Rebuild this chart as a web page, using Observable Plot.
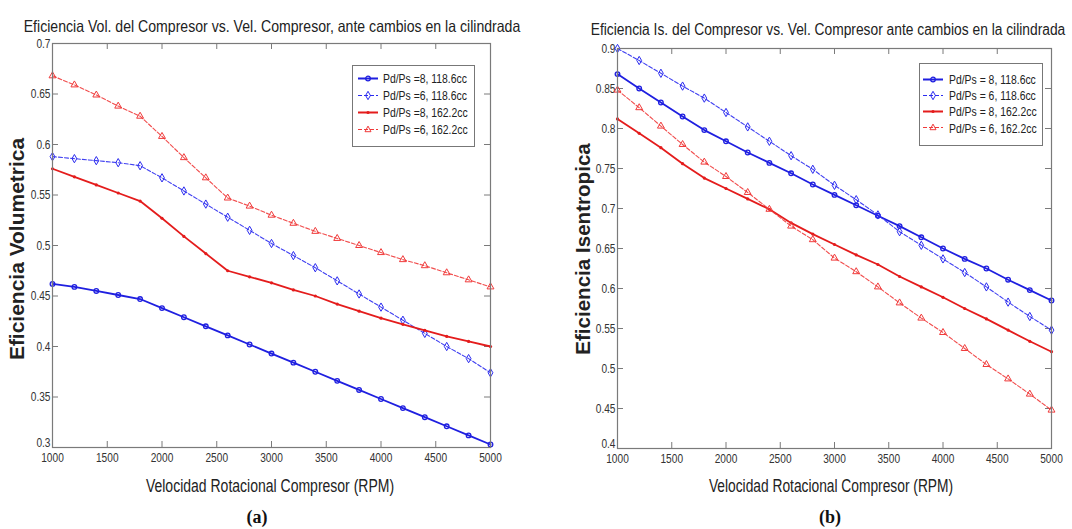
<!DOCTYPE html>
<html><head><meta charset="utf-8">
<script src="https://cdn.jsdelivr.net/npm/d3@7"></script>
<script src="https://cdn.jsdelivr.net/npm/@observablehq/plot@0.6"></script>
<style>
body{margin:0;background:#fff;}
#root{position:relative;width:1072px;height:529px;overflow:hidden;font-family:"Liberation Sans",Arial,sans-serif;color:#222;}
.c{position:absolute;white-space:nowrap;line-height:1;}
.panel{position:absolute;top:0;}
.legend{position:absolute;background:#fff;border:1px solid #777;box-sizing:border-box;}
.item{position:absolute;display:flex;align-items:center;font-size:13px;color:#222;white-space:nowrap;transform:translateY(-50%);}
.item span{display:inline-block;transform:scaleX(0.8);transform-origin:0 50%;}
</style>
</head><body><div id="root"></div>
<script>
// ---------- data ----------
const rpm = [1000,1200,1400,1600,1800,2000,2200,2400,2600,2800,3000,3200,3400,3600,3800,4000,4200,4400,4600,4800,5000];
const xTicks = [1000,1500,2000,2500,3000,3500,4000,4500,5000];
const yTicksA = [0.3,0.35,0.4,0.45,0.5,0.55,0.6,0.65,0.7];
const yTicksB = [0.4,0.45,0.5,0.55,0.6,0.65,0.7,0.75,0.8,0.85,0.9];
const legendA = ["Pd/Ps =8, 118.6cc","Pd/Ps =6, 118.6cc","Pd/Ps =8, 162.2cc","Pd/Ps =6, 162.2cc"];
const legendB = ["Pd/Ps = 8, 118.6cc","Pd/Ps = 6, 118.6cc","Pd/Ps = 8, 162.2cc","Pd/Ps = 6, 162.2cc"];

// (a) Eficiencia volumetrica
const volP8_1186 = [0.462,0.459,0.455,0.451,0.447,0.438,0.429,0.420,0.411,0.402,0.393,0.384,0.375,0.366,0.357,0.348,0.339,0.330,0.321,0.312,0.303];
const volP6_1186 = [0.588,0.586,0.584,0.582,0.579,0.567,0.554,0.541,0.528,0.515,0.502,0.490,0.478,0.465,0.452,0.439,0.426,0.413,0.400,0.388,0.374];
const volP8_1622 = [0.576,0.568,0.560,0.552,0.544,0.527,0.509,0.492,0.475,0.469,0.463,0.456,0.450,0.442,0.435,0.428,0.422,0.416,0.410,0.405,0.400];
const volP6_1622 = [0.668,0.659,0.649,0.638,0.628,0.608,0.587,0.567,0.547,0.539,0.530,0.522,0.514,0.507,0.500,0.493,0.486,0.480,0.473,0.466,0.459];

// (b) Eficiencia isentropica
const isoP8_1186 = [0.868,0.850,0.8325,0.815,0.798,0.784,0.770,0.757,0.744,0.730,0.717,0.704,0.691,0.678,0.664,0.650,0.637,0.625,0.611,0.598,0.585];
const isoP6_1186 = [0.900,0.885,0.869,0.853,0.838,0.820,0.802,0.784,0.766,0.749,0.729,0.711,0.692,0.671,0.654,0.637,0.620,0.602,0.583,0.565,0.548];
const isoP8_1622 = [0.812,0.794,0.776,0.756,0.738,0.725,0.712,0.699,0.682,0.668,0.655,0.642,0.630,0.615,0.602,0.589,0.575,0.562,0.548,0.534,0.521];
const isoP6_1622 = [0.848,0.826,0.803,0.780,0.758,0.740,0.720,0.699,0.678,0.661,0.638,0.621,0.602,0.582,0.563,0.545,0.525,0.505,0.487,0.468,0.448];

// ---------- styles ----------
const styles = [
  {stroke:"#1f1fe0", width:1.8, dash:null, marker:"circle"},
  {stroke:"#2b2bf0", width:1.1, dash:"4,2", marker:"diamond"},
  {stroke:"#e41c1c", width:1.8, dash:null, marker:"dot"},
  {stroke:"#f03a3a", width:1.1, dash:"4,2", marker:"triangle"}
];
const tallDiamond = {draw(ctx, size){const r=Math.sqrt(size/Math.PI);ctx.moveTo(0,-r*1.3);ctx.lineTo(r*0.75,0);ctx.lineTo(0,r*1.3);ctx.lineTo(-r*0.75,0);ctx.closePath();}};

function seriesMarks(values, s){
  const rows = rpm.map((x,i)=>({x, y:values[i]}));
  const marks = [Plot.line(rows,{x:"x",y:"y",stroke:s.stroke,strokeWidth:s.width,strokeDasharray:s.dash,strokeOpacity:s.dash?0.9:1})];
  if(s.marker==="circle") marks.push(Plot.dot(rows,{x:"x",y:"y",r:2.3,fill:"none",stroke:s.stroke,strokeWidth:1.3}));
  if(s.marker==="diamond") marks.push(Plot.dot(rows,{x:"x",y:"y",r:3.2,symbol:tallDiamond,fill:"none",stroke:s.stroke,strokeWidth:1}));
  if(s.marker==="dot") marks.push(Plot.dot(rows,{x:"x",y:"y",r:1.6,fill:s.stroke,stroke:"none"}));
  if(s.marker==="triangle") marks.push(Plot.dot(rows,{x:"x",y:"y",r:3.3,symbol:"triangle2",stroke:s.stroke,strokeWidth:1}));
  return marks;
}

const fmtY = d=>String(+d.toFixed(2));
function panel({seriesList, yDomain, yTicks, mL, mR, mT, mB}){
  const W=536, H=470, pw=W-mL-mR, ph=H-mT-mB, tk=6, gray="#7a7a7a";
  const svg = Plot.plot({
    width:W, height:H, marginLeft:mL, marginRight:mR, marginTop:mT, marginBottom:mB,
    style:{fontFamily:'"Liberation Sans",Arial,sans-serif', fontSize:"13px", background:"transparent", overflow:"visible", color:"#333"},
    x:{domain:[1000,5000], label:null},
    y:{domain:yDomain, label:null},
    marks:[
      Plot.tickX(xTicks,{x:d=>d, insetTop:ph-tk, stroke:gray}),
      Plot.tickX(xTicks,{x:d=>d, insetBottom:ph-tk, stroke:gray}),
      Plot.tickY(yTicks,{y:d=>d, insetRight:pw-tk, stroke:gray}),
      Plot.tickY(yTicks,{y:d=>d, insetLeft:pw-tk, stroke:gray}),
      Plot.axisX({ticks:xTicks, tickSize:0, tickPadding:5, label:null, tickFormat:d=>String(d), fill:"#333"}),
      Plot.axisY({ticks:yTicks.slice(1), tickSize:0, tickPadding:2, label:null, tickFormat:fmtY, fill:"#333"}),
      Plot.axisY({ticks:yTicks.slice(0,1), tickSize:0, tickPadding:2, label:null, tickFormat:fmtY, fill:"#333", dy:-5}),
      ...seriesList.flatMap(([v,s])=>seriesMarks(v,s)),
      Plot.frame({stroke:gray, strokeWidth:1.2})
    ]
  });
  // condensed tick labels (narrow look)
  svg.querySelectorAll('g[aria-label$="tick label"] text').forEach(el=>{
    const t=el.getAttribute("transform");
    if(t) el.setAttribute("transform", t+" scale(0.78,1)");
    else {
      const x=+el.getAttribute("x")||0, y=+el.getAttribute("y")||0;
      el.setAttribute("x",0); el.setAttribute("y",0);
      el.setAttribute("transform",`translate(${x},${y}) scale(0.78,1)`);
    }
  });
  return svg;
}

const root = document.getElementById("root");
function addPanel(svg, left){const d=document.createElement("div");d.className="panel";d.style.left=left+"px";d.appendChild(svg);root.appendChild(d);}

addPanel(panel({seriesList:[[volP8_1186,styles[0]],[volP6_1186,styles[1]],[volP8_1622,styles[2]],[volP6_1622,styles[3]]],
  yDomain:[0.3,0.7], yTicks:yTicksA, mL:52, mR:46, mT:43, mB:23}), 0);
addPanel(panel({seriesList:[[isoP8_1186,styles[0]],[isoP6_1186,styles[1]],[isoP8_1622,styles[2]],[isoP6_1622,styles[3]]],
  yDomain:[0.4,0.9], yTicks:yTicksB, mL:81, mR:21, mT:48, mB:22}), 536);

// ---------- texts ----------
// squeeze: condense horizontally to target width (narrow-font look); resize: change font size to target width
function text(str, cx, cy, css, targetW, mode, rot){
  const e=document.createElement("div");
  e.className="c";
  e.textContent=str;
  Object.assign(e.style, css, {left:cx+"px", top:cy+"px"});
  root.appendChild(e);
  let extra="";
  if(targetW){
    const w=e.offsetWidth;
    if(mode==="squeeze") extra=` scaleX(${(targetW/w).toFixed(3)})`;
    else e.style.fontSize=(parseFloat(css.fontSize)*targetW/w).toFixed(2)+"px";
  }
  e.style.transform=`translate(-50%,-50%)${rot?" rotate(-90deg)":""}${extra}`;
  return e;
}
const sans='"Liberation Sans",Arial,sans-serif';
text("Eficiencia Vol. del Compresor vs. Vel. Compresor, ante cambios en la cilindrada",272,25.5,{fontSize:"16.5px",fontFamily:sans,color:"#222"},496,"squeeze");
text("Eficiencia Is. del Compresor vs. Vel. Compresor ante cambios en la cilindrada",828,29.5,{fontSize:"16px",fontFamily:sans,color:"#222"},474,"squeeze");
text("Velocidad Rotacional Compresor (RPM)",270,487,{fontSize:"17.5px",fontFamily:sans,color:"#222"},248,"squeeze");
text("Velocidad Rotacional Compresor (RPM)",831,487,{fontSize:"17.5px",fontFamily:sans,color:"#222"},244,"squeeze");
text("Eficiencia Volumetrica",17,249,{fontSize:"17px",fontFamily:sans,fontWeight:"bold",color:"#222"},222,"resize",true);
text("Eficiencia Isentropica",583,249,{fontSize:"17px",fontFamily:sans,fontWeight:"bold",color:"#222"},212,"resize",true);
text("(a)",257,517,{fontSize:"18px",fontFamily:'"Liberation Serif","Times New Roman",serif',fontWeight:"bold",color:"#111"});
text("(b)",830,517,{fontSize:"18px",fontFamily:'"Liberation Serif","Times New Roman",serif',fontWeight:"bold",color:"#111"});

// ---------- legends ----------
function markerSvg(s){
  const c=s.stroke;
  let m="";
  if(s.marker==="circle") m=`<circle cx="10" cy="5" r="2.3" fill="none" stroke="${c}" stroke-width="1.3"/>`;
  if(s.marker==="diamond") m=`<path d="M10,0.8L12.4,5L10,9.2L7.6,5Z" fill="none" stroke="${c}" stroke-width="1"/>`;
  if(s.marker==="dot") m=`<circle cx="10" cy="5" r="1.6" fill="${c}"/>`;
  if(s.marker==="triangle") m=`<path d="M10,1.6L13,7.2L7,7.2Z" fill="none" stroke="${c}" stroke-width="1"/>`;
  return `<svg width="20" height="10" style="display:block;flex:none"><line x1="0" x2="20" y1="5" y2="5" stroke="${c}" stroke-width="${s.width}" ${s.dash?`stroke-dasharray="${s.dash}"`:""}/>${m}</svg>`;
}
function legend(labels, left, top, w, h, first, step, lineLeft, textLeft){
  const box=document.createElement("div");
  box.className="legend";
  Object.assign(box.style,{left:left+"px",top:top+"px",width:w+"px",height:h+"px"});
  labels.forEach((lab,i)=>{
    const it=document.createElement("div");
    it.className="item";
    it.style.top=(first+i*step)+"px";
    it.style.left=lineLeft+"px";
    it.innerHTML=markerSvg(styles[i])+`<span style="margin-left:${textLeft-lineLeft-20}px">${lab}</span>`;
    box.appendChild(it);
  });
  root.appendChild(box);
}
legend(legendA, 352, 65, 123, 82, 12, 17, 5, 30);
legend(legendB, 919, 63, 124, 83, 15, 16.2, 3, 29);
</script></body></html>
